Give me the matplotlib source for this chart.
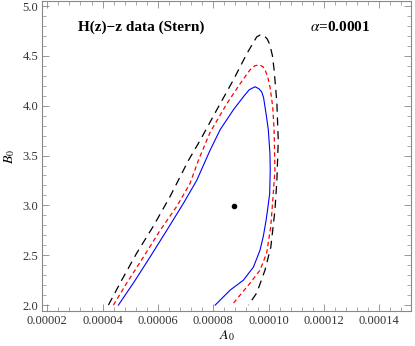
import numpy as np
import matplotlib
matplotlib.use("Agg")
import matplotlib.pyplot as plt
from matplotlib.ticker import MultipleLocator, FormatStrFormatter

# contour points, A0 in units of 1e-5
blue_a = [4.57, 5.11, 5.71, 6.32, 6.92, 7.40, 7.88, 8.25, 8.73, 9.09, 9.30, 9.51, 9.65, 9.75,
          9.82, 9.87, 9.93, 9.99, 10.05, 10.06, 10.04, 9.97, 9.91, 9.81, 9.69, 9.45, 9.09,
          8.61, 8.07]
blue_b = [2.00, 2.22, 2.48, 2.75, 3.02, 3.25, 3.55, 3.76, 3.96, 4.09, 4.16, 4.19, 4.17, 4.14,
          4.08, 3.99, 3.88, 3.76, 3.52, 3.35, 3.12, 2.97, 2.85, 2.69, 2.55, 2.38, 2.25,
          2.15, 2.00]

red_a = [4.39, 4.87, 5.47, 6.08, 6.68, 7.16, 7.46, 7.88, 8.49, 8.97, 9.33, 9.50, 9.67, 9.80,
         9.87, 9.97, 10.05, 10.15, 10.20, 10.23, 10.17, 10.08, 9.93, 9.69, 9.33, 8.67]
red_b = [2.00, 2.22, 2.48, 2.75, 2.99, 3.22, 3.45, 3.73, 4.02, 4.22, 4.36, 4.40, 4.41, 4.39,
         4.36, 4.29, 4.19, 3.99, 3.76, 3.35, 3.12, 2.79, 2.52, 2.35, 2.22, 2.00]

black_a = [4.21, 4.69, 5.23, 5.83, 6.44, 7.10, 7.52, 8.13, 8.73, 9.21, 9.57, 9.70, 9.81, 9.95,
           10.05, 10.14, 10.20, 10.30, 10.35, 10.30, 10.23, 10.08, 9.87, 9.57, 9.27]
black_b = [2.00, 2.25, 2.52, 2.79, 3.09, 3.45, 3.65, 3.96, 4.26, 4.52, 4.69, 4.71, 4.71, 4.67,
           4.61, 4.50, 4.36, 4.03, 3.65, 3.25, 2.95, 2.58, 2.35, 2.12, 2.00]

best_a = [8.75]
best_b = [2.99]

plt.rcParams['font.family'] = ['Liberation Serif', 'DejaVu Serif']
plt.rcParams['mathtext.fontset'] = 'stix'

fig = plt.figure(figsize=(4.15, 3.46), dpi=100)
ax = fig.add_axes([0.1024, 0.101, 0.888, 0.896])

ax.plot(np.array(black_a) * 1e-5, black_b, color='black', lw=0.9, dashes=(6.5, 4.5))
ax.plot(np.array(red_a) * 1e-5, red_b, color='red', lw=0.9, dashes=(3.5, 2.5))
ax.plot(np.array(blue_a) * 1e-5, blue_b, color='blue', lw=0.8)
ax.plot(np.array(best_a) * 1e-5, best_b, 'o', color='black', ms=3)

ax.set_xlim(1.826e-5, 15.15e-5)
ax.set_ylim(1.94, 5.05)

ax.xaxis.set_major_locator(MultipleLocator(2e-5))
ax.xaxis.set_minor_locator(MultipleLocator(0.4e-5))
ax.xaxis.set_major_formatter(FormatStrFormatter('%.5f'))
ax.yaxis.set_major_locator(MultipleLocator(0.5))
ax.yaxis.set_minor_locator(MultipleLocator(0.1))
ax.yaxis.set_major_formatter(FormatStrFormatter('%.1f'))

ax.tick_params(which='both', direction='in', top=True, right=True, color='#888888',
               labelsize=9, labelcolor='#333333', pad=3)
ax.tick_params(which='major', length=5, width=0.6)
ax.tick_params(which='minor', length=3, width=0.5)
for s in ax.spines.values():
    s.set_color('#888888')
    s.set_linewidth(0.8)

ax.set_xlabel('$A_0$', fontsize=10, labelpad=1)
ax.set_ylabel('$B_0$', fontsize=10, labelpad=4)

ax.text(0.096, 0.915, 'H(z)\u2212z data (Stern)', transform=ax.transAxes,
        fontsize=11, fontweight='bold', va='center', ha='left')
ax.text(0.726, 0.915, r'$\alpha$=0.0001', transform=ax.transAxes,
        fontsize=11, fontweight='bold', va='center', ha='left')

fig.savefig('out.png', dpi=100)
